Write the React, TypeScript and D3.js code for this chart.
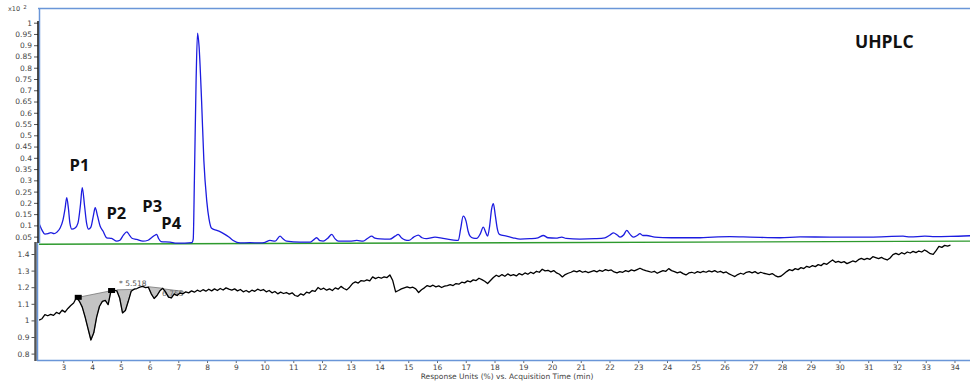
import { useEffect, useRef } from "react";
import * as d3 from "d3";

// upper trace: UV chromatogram (x10^2)
const blueTimes = [
  2.155, 2.26, 2.36, 2.47, 2.57, 2.68, 2.78, 2.89, 2.99, 3.06, 3.12, 3.18, 3.23, 3.3, 3.41, 3.51,
  3.6, 3.66, 3.74, 3.81, 3.88, 3.96, 4.05, 4.11, 4.19, 4.28, 4.38, 4.51, 4.68, 4.86, 4.97, 5.09,
  5.21, 5.3, 5.39, 5.55, 5.77, 5.95, 6.07, 6.17, 6.25, 6.31, 6.4, 6.71, 6.94, 7.23, 7.47, 7.52,
  7.56, 7.62, 7.67, 7.72, 7.81, 7.89, 7.99, 8.07, 8.16, 8.34, 8.45, 8.62, 8.76, 8.91, 9.15, 9.49,
  9.84, 10.02, 10.19, 10.37, 10.54, 10.64, 10.77, 11.24, 11.59, 11.69, 11.81, 11.93, 12.04, 12.2,
  12.34, 12.45, 12.57, 12.97, 13.21, 13.43, 13.59, 13.73, 13.84, 14.02, 14.36, 14.54, 14.65, 14.76,
  14.88, 15.02, 15.19, 15.35, 15.48, 15.64, 15.93, 16.21, 16.52, 16.74, 16.82, 16.91, 17.01, 17.08,
  17.15, 17.26, 17.38, 17.5, 17.61, 17.69, 17.76, 17.83, 17.9, 17.96, 18.03, 18.1, 18.17, 18.42,
  18.64, 18.89, 19.23, 19.51, 19.7, 19.86, 20.14, 20.34, 20.49, 20.97, 21.49, 21.84, 22.02, 22.14,
  22.27, 22.37, 22.49, 22.6, 22.71, 22.83, 22.96, 23.06, 23.16, 23.29, 23.58, 23.86, 24.45, 25.15,
  25.6, 26.19, 26.89, 27.93, 28.63, 29.67, 31.06, 32.21, 32.46, 32.97, 33.32, 33.84, 34.54,
];
const blueValues = [
  0.11, 0.079, 0.061, 0.063, 0.068, 0.063, 0.07, 0.088, 0.124, 0.173, 0.223, 0.173, 0.11, 0.083, 0.088, 0.11,
  0.195, 0.268, 0.186, 0.11, 0.083, 0.092, 0.146, 0.179, 0.142, 0.097, 0.075, 0.045, 0.042, 0.03, 0.034, 0.057,
  0.071, 0.057, 0.043, 0.038, 0.03, 0.034, 0.045, 0.055, 0.06, 0.043, 0.028, 0.026, 0.021, 0.021, 0.023, 0.039,
  0.298, 0.744, 0.954, 0.9, 0.655, 0.387, 0.209, 0.128, 0.087, 0.078, 0.072, 0.06, 0.048, 0.033, 0.022, 0.023,
  0.022, 0.025, 0.033, 0.03, 0.052, 0.041, 0.03, 0.026, 0.026, 0.034, 0.045, 0.032, 0.03, 0.043,
  0.06, 0.041, 0.03, 0.03, 0.033, 0.03, 0.043, 0.052, 0.043, 0.04, 0.039, 0.052, 0.06, 0.045,
  0.036, 0.033, 0.048, 0.057, 0.045, 0.041, 0.048, 0.042, 0.036, 0.033, 0.083, 0.141, 0.119, 0.075,
  0.052, 0.043, 0.042, 0.061, 0.092, 0.07, 0.052, 0.097, 0.173, 0.196, 0.142, 0.083, 0.06, 0.052,
  0.045, 0.039, 0.041, 0.045, 0.055, 0.045, 0.043, 0.048, 0.042, 0.039, 0.041, 0.045, 0.057, 0.067,
  0.057, 0.048, 0.057, 0.078, 0.061, 0.048, 0.055, 0.063, 0.055, 0.055, 0.048, 0.046, 0.045, 0.045,
  0.048, 0.05, 0.048, 0.045, 0.049, 0.048, 0.048, 0.052, 0.049, 0.052, 0.05, 0.051, 0.054,
];

// green baseline of upper panel
const greenTimes = [2.155, 34.54];
const greenValues = [0.016, 0.03];

// lower trace: response units, sampled every 0.1 min from 2.16 min
const blackStart = 2.16;
const blackStep = 0.1;
const blackValues = [
  1.002, 1.01, 1.035, 1.028, 1.036, 1.03, 1.048, 1.04,
  1.062, 1.05, 1.072, 1.09, 1.105, 1.138, 1.115, 1.08, 1.02, 0.95,
  0.882, 0.925, 1.02, 1.085, 1.115, 1.12, 1.095, 1.18, 1.182, 1.178,
  1.135, 1.045, 1.06, 1.115, 1.175, 1.188, 1.192, 1.2, 1.205, 1.198,
  1.2, 1.16, 1.132, 1.15, 1.178, 1.193, 1.17, 1.14, 1.135, 1.16,
  1.15, 1.165, 1.16, 1.172, 1.166, 1.178, 1.17, 1.182, 1.174, 1.185,
  1.176, 1.188, 1.178, 1.19, 1.18, 1.192, 1.183, 1.196, 1.188, 1.182,
  1.19, 1.178, 1.186, 1.172, 1.18, 1.17, 1.182, 1.175, 1.188, 1.18,
  1.186, 1.172, 1.18, 1.166, 1.174, 1.16, 1.17, 1.162, 1.168, 1.158,
  1.166, 1.15, 1.145, 1.16, 1.152, 1.17, 1.165, 1.18, 1.175, 1.198,
  1.186, 1.194, 1.182, 1.19, 1.18, 1.196, 1.188, 1.205, 1.192, 1.184,
  1.2, 1.222, 1.232, 1.225, 1.24, 1.236, 1.244, 1.238, 1.262, 1.252,
  1.26, 1.254, 1.262, 1.258, 1.274, 1.24, 1.172, 1.18, 1.19, 1.196,
  1.202, 1.196, 1.2, 1.19, 1.168, 1.185, 1.196, 1.21, 1.204, 1.212,
  1.202, 1.208, 1.198, 1.206, 1.21, 1.216, 1.21, 1.222, 1.218, 1.23,
  1.226, 1.238, 1.232, 1.244, 1.24, 1.254, 1.246, 1.236, 1.222, 1.24,
  1.258, 1.272, 1.264, 1.276, 1.266, 1.28, 1.27, 1.276, 1.268, 1.282,
  1.274, 1.286, 1.278, 1.29, 1.282, 1.296, 1.29, 1.308, 1.298, 1.302,
  1.292, 1.3, 1.286, 1.278, 1.262, 1.276, 1.284, 1.29, 1.298, 1.292,
  1.3, 1.29, 1.296, 1.288, 1.294, 1.3, 1.292, 1.302, 1.296, 1.306,
  1.3, 1.304, 1.292, 1.286, 1.294, 1.29, 1.3, 1.294, 1.304, 1.298,
  1.306, 1.314, 1.306, 1.3, 1.296, 1.29, 1.296, 1.284, 1.292, 1.3,
  1.296, 1.312, 1.3, 1.294, 1.286, 1.292, 1.282, 1.274, 1.286, 1.29,
  1.284, 1.294, 1.288, 1.296, 1.29, 1.298, 1.292, 1.3, 1.29, 1.296,
  1.286, 1.292, 1.28, 1.272, 1.264, 1.276, 1.284, 1.278, 1.29, 1.294,
  1.286, 1.294, 1.282, 1.29, 1.284, 1.28, 1.276, 1.282, 1.27, 1.262,
  1.266, 1.28, 1.294, 1.306, 1.3, 1.312, 1.306, 1.318, 1.312, 1.326,
  1.32, 1.33, 1.324, 1.336, 1.33, 1.344, 1.338, 1.352, 1.364, 1.35,
  1.356, 1.348, 1.354, 1.342, 1.35, 1.358, 1.352, 1.366, 1.374, 1.366,
  1.374, 1.368, 1.384, 1.378, 1.372, 1.38, 1.37, 1.364, 1.376, 1.396,
  1.404, 1.396, 1.408, 1.4, 1.412, 1.406, 1.416, 1.408, 1.418, 1.412,
  1.424, 1.414, 1.402, 1.398, 1.42, 1.446, 1.44, 1.452, 1.448, 1.454,
];

// integrated negative peaks on the lower trace
const peakFrom = [3.52, 4.86, 5.96, 6.48];
const peakTo = [4.7, 5.49, 6.48, 7.17];
const peakBaseFrom = [1.139, 1.184, 1.203, 1.19];
const peakBaseTo = [1.18, 1.187, 1.193, 1.175];
const markerTimes = [3.52, 4.68];
const markerValues = [1.139, 1.18];

const peakLabels = ["P1", "P2", "P3", "P4"];
const peakLabelTimes = [3.22, 4.5, 5.75, 6.41];
const peakLabelValues = [0.34, 0.13, 0.16, 0.085];

const topTicks = [1, 0.95, 0.9, 0.85, 0.8, 0.75, 0.7, 0.65, 0.6, 0.55, 0.5, 0.45, 0.4, 0.35, 0.3, 0.25, 0.2, 0.15, 0.1, 0.05];
const bottomTicks = [1.5, 1.4, 1.3, 1.2, 1.1, 1, 0.9, 0.8];
const xTicks = [3, 4, 5, 6, 7, 8, 9, 10, 11, 12, 13, 14, 15, 16, 17, 18, 19, 20, 21, 22, 23, 24, 25, 26, 27, 28, 29, 30, 31, 32, 33, 34];

export default function App() {
  const ref = useRef<SVGSVGElement | null>(null);

  useEffect(() => {
    if (!ref.current) return;
    const svg = d3.select(ref.current);
    svg.selectAll("*").remove();

    const width = 970;
    const height = 383;
    const tickFont = "DejaVu Sans, sans-serif";
    const frameBlue = "#6a96d8";

    const x = d3.scaleLinear().domain([2.155, 34.54]).range([39, 970]);
    const yTop = d3.scaleLinear().domain([0, 1]).range([247.9, 22.7]);
    const yBot = d3.scaleLinear().domain([0.8, 1.4]).range([353.6, 254]);

    svg.attr("width", width).attr("height", height);

    const defs = svg.append("defs");
    defs.append("clipPath").attr("id", "clipTop")
      .append("rect").attr("x", 39).attr("y", 8).attr("width", 931).attr("height", 236);
    defs.append("clipPath").attr("id", "clipBotLabels")
      .append("rect").attr("x", 0).attr("y", 240).attr("width", 40).attr("height", 130);

    // upper panel
    const top = svg.append("g");
    const blueData = blueTimes.map((t, i) => [t, blueValues[i]] as [number, number]);
    const greenData = greenTimes.map((t, i) => [t, greenValues[i]] as [number, number]);

    top.append("path")
      .datum(greenData)
      .attr("fill", "none")
      .attr("stroke", "#2e9a2e")
      .attr("stroke-width", 1.4)
      .attr("d", d3.line<[number, number]>().x(d => x(d[0])).y(d => yTop(d[1])));

    const lineTop = d3.line<[number, number]>()
      .x(d => x(d[0]))
      .y(d => yTop(d[1]))
      .curve(d3.curveMonotoneX);

    top.append("path")
      .datum(blueData)
      .attr("clip-path", "url(#clipTop)")
      .attr("fill", "none")
      .attr("stroke", "#1c1ce0")
      .attr("stroke-width", 1.3)
      .attr("stroke-linejoin", "round")
      .attr("d", lineTop);

    const topAxis = top.append("g")
      .attr("transform", "translate(38,0)")
      .call(d3.axisLeft(yTop).tickValues(topTicks).tickSize(4).tickPadding(2).tickFormat(d => String(d)));
    topAxis.select(".domain").remove();
    topAxis.selectAll("line").attr("stroke", "#555");
    topAxis.selectAll("text")
      .attr("font-family", tickFont).attr("font-size", 7.5).attr("fill", "#444");

    const exp = top.append("text")
      .attr("x", 8).attr("y", 11)
      .attr("font-family", tickFont).attr("font-size", 6.5).attr("fill", "#444");
    exp.append("tspan").text("x10");
    exp.append("tspan").attr("dx", 3).attr("dy", -2).attr("font-size", 5.5).text("2");

    top.selectAll(".plabel")
      .data(peakLabels)
      .join("text")
      .attr("x", (_, i) => x(peakLabelTimes[i]))
      .attr("y", (_, i) => yTop(peakLabelValues[i]))
      .attr("font-family", "Open Sans, sans-serif")
      .attr("font-weight", 700)
      .attr("font-size", 16.5)
      .attr("fill", "#111")
      .text(d => d);

    top.append("text")
      .attr("x", 855).attr("y", 48)
      .attr("font-family", "Open Sans, sans-serif")
      .attr("font-weight", 700)
      .attr("font-size", 17.5)
      .attr("fill", "#111")
      .text("UHPLC");

    // lower panel
    const bot = svg.append("g");
    const blackData = blackValues.map((v, i) => [blackStart + i * blackStep, v] as [number, number]);
    const lineBot = d3.line<[number, number]>().x(d => x(d[0])).y(d => yBot(d[1]));

    peakFrom.forEach((from, i) => {
      const to = peakTo[i];
      const inside = blackData.filter(d => d[0] > from && d[0] < to);
      const poly: [number, number][] = [[from, peakBaseFrom[i]], ...inside, [to, peakBaseTo[i]]];
      bot.append("path")
        .attr("d", lineBot(poly) + "Z")
        .attr("fill", "#bdbdbd")
        .attr("fill-opacity", 0.9)
        .attr("stroke", "#777")
        .attr("stroke-width", 0.8);
    });

    bot.append("text")
      .attr("x", 119).attr("y", yBot(1.208))
      .attr("font-family", tickFont).attr("font-size", 7.5).attr("fill", "#555")
      .text("* 5.518");
    bot.append("text")
      .attr("x", 162).attr("y", yBot(1.15))
      .attr("font-family", tickFont).attr("font-size", 7.5).attr("fill", "#666")
      .text("6.755");

    bot.append("path")
      .datum(blackData)
      .attr("fill", "none")
      .attr("stroke", "#000")
      .attr("stroke-width", 1.3)
      .attr("stroke-linejoin", "round")
      .attr("d", lineBot);

    bot.selectAll(".mk")
      .data(markerTimes)
      .join("rect")
      .attr("x", d => x(d) - 3.5)
      .attr("y", (_, i) => yBot(markerValues[i]) - 2.5)
      .attr("width", 7).attr("height", 5)
      .attr("fill", "#000");

    const botAxisWrap = bot.append("g").attr("clip-path", "url(#clipBotLabels)");
    const botAxis = botAxisWrap.append("g")
      .attr("transform", "translate(35.5,0)")
      .call(d3.axisLeft(yBot).tickValues(bottomTicks).tickSize(4).tickPadding(2).tickFormat(d => String(d)));
    botAxis.select(".domain").remove();
    botAxis.selectAll("line").attr("stroke", "#555");
    botAxis.selectAll("text")
      .attr("font-family", tickFont).attr("font-size", 7.5).attr("fill", "#444");

    const xAxis = bot.append("g")
      .attr("transform", "translate(0,361)")
      .call(d3.axisBottom(x).tickValues(xTicks).tickSize(2).tickPadding(1.5).tickFormat(d => String(d)));
    xAxis.select(".domain").remove();
    xAxis.selectAll("line").attr("stroke", "#666");
    xAxis.selectAll("text")
      .attr("font-family", tickFont).attr("font-size", 7.5).attr("fill", "#444");

    svg.append("text")
      .attr("x", 507).attr("y", 379)
      .attr("text-anchor", "middle")
      .attr("font-family", tickFont).attr("font-size", 7.5).attr("fill", "#444")
      .text("Response Units (%) vs. Acquisition Time (min)");

    // frames and axis lines
    svg.append("line").attr("x1", 38).attr("x2", 970).attr("y1", 8.5).attr("y2", 8.5)
      .attr("stroke", frameBlue).attr("stroke-width", 1.5);
    svg.append("line").attr("x1", 39.5).attr("x2", 39.5).attr("y1", 8).attr("y2", 243)
      .attr("stroke", frameBlue).attr("stroke-width", 1.5);
    svg.append("line").attr("x1", 38).attr("x2", 38).attr("y1", 21).attr("y2", 243)
      .attr("stroke", "#111").attr("stroke-width", 1.5);
    svg.append("line").attr("x1", 35.5).attr("x2", 35.5).attr("y1", 242).attr("y2", 361)
      .attr("stroke", "#555").attr("stroke-width", 2.5);
    svg.append("line").attr("x1", 37.5).attr("x2", 37.5).attr("y1", 243).attr("y2", 361)
      .attr("stroke", frameBlue).attr("stroke-width", 1.5);
    svg.append("line").attr("x1", 37).attr("x2", 970).attr("y1", 360.5).attr("y2", 360.5)
      .attr("stroke", frameBlue).attr("stroke-width", 1.5);
  }, []);

  return (
    <svg
      ref={ref}
      style={{ position: "absolute", left: 0, top: 0, background: "#fff" }}
    />
  );
}
